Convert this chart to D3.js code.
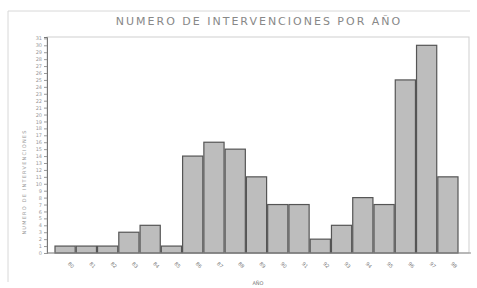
<!DOCTYPE html>
<html>
<head>
<meta charset="utf-8">
<script src="https://cdn.jsdelivr.net/npm/d3@7"></script>
<style>
  body { margin: 0; background: #fff; }
  text { font-family: "DejaVu Sans", sans-serif; }
</style>
</head>
<body>
<svg id="chart" width="477" height="288"></svg>
<script>
// Years (labels on x axis) and number of interventions per year
var years = ['80', '81', '82', '83', '84', '85', '86', '87', '88', '89',
             '90', '91', '92', '93', '94', '95', '96', '97', '98'];
var counts = [1, 1, 1, 3, 4, 1, 14, 16, 15, 11, 7, 7, 2, 4, 8, 7, 25, 30, 11];
var yTicks = d3.range(0, 32);

var svg = d3.select("#chart");

// plot box (note: "top" is reserved on window, so use other names)
var plotLeft = 47, plotRight = 469, plotTop = 37, plotBottom = 253;

// outer frame of the figure
svg.append("path")
    .attr("d", "M8,11 H470 M8,11 V282")
    .style("fill", "none")
    .style("stroke", "#d8d8d8");

var x = d3.scaleBand()
    .domain(years)
    .range([55, 458])
    .paddingInner(0.05)
    .paddingOuter(0);

var y = d3.scaleLinear()
    .domain([0, 31.2])
    .range([plotBottom, plotTop]);

// plot frame
svg.append("rect")
    .attr("x", plotLeft)
    .attr("y", plotTop)
    .attr("width", plotRight - plotLeft)
    .attr("height", plotBottom - plotTop)
    .style("fill", "none")
    .style("stroke", "#cfcfcf");

// bars
svg.selectAll(".bar")
    .data(counts)
    .enter().append("rect")
    .attr("class", "bar")
    .attr("x", function(d, i) { return x(years[i]); })
    .attr("y", function(d) { return y(d); })
    .attr("width", x.bandwidth())
    .attr("height", function(d) { return plotBottom - y(d); })
    .style("fill", "#bdbdbd")
    .style("stroke", "#555")
    .style("stroke-width", 1.2);

// y axis
var yAxis = svg.append("g")
    .attr("transform", "translate(" + plotLeft + ",0)")
    .call(d3.axisLeft(y).tickValues(yTicks).tickSize(3).tickFormat(d3.format("d")));
yAxis.select(".domain").style("stroke", "#777");
yAxis.selectAll(".tick line").style("stroke", "#999");
yAxis.selectAll(".tick text")
    .style("font-size", "5px")
    .style("fill", "#999")
    .attr("x", -5);

// x axis
var xAxis = svg.append("g")
    .attr("transform", "translate(0," + plotBottom + ")")
    .call(d3.axisBottom(x).tickSize(0));
xAxis.select(".domain")
    .attr("d", "M" + plotLeft + ",0H" + (plotRight + 2))
    .style("stroke", "#888");
xAxis.selectAll(".tick text")
    .style("font-size", "5px")
    .style("fill", "#777")
    .attr("text-anchor", "middle")
    .attr("transform", "translate(6,12) rotate(45)")
    .attr("y", 0)
    .attr("dy", "0.35em");

// title
svg.append("text")
    .attr("x", 259)
    .attr("y", 25)
    .attr("text-anchor", "middle")
    .style("font-size", "11px")
    .style("letter-spacing", "2px")
    .style("fill", "#888")
    .text("NUMERO DE INTERVENCIONES POR AÑO");

// y axis title
svg.append("text")
    .attr("transform", "translate(26,182) rotate(-90)")
    .attr("text-anchor", "middle")
    .style("font-size", "5px")
    .style("letter-spacing", "1.2px")
    .style("fill", "#999")
    .text("NUMERO DE INTERVENCIONES");

// x axis title
svg.append("text")
    .attr("x", 258)
    .attr("y", 285)
    .attr("text-anchor", "middle")
    .style("font-size", "5px")
    .style("fill", "#777")
    .text("AÑO");
</script>
</body>
</html>
